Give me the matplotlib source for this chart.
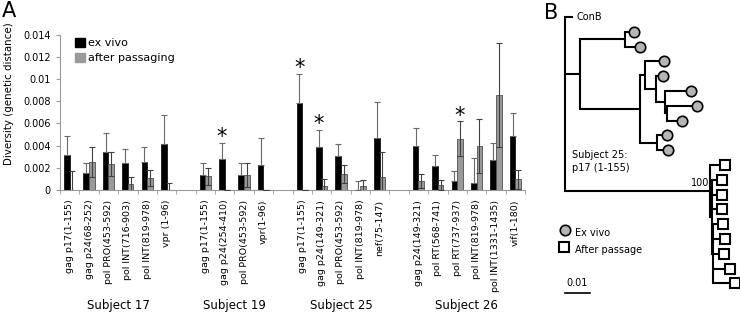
import numpy as np
import matplotlib
matplotlib.use("Agg")
from matplotlib import pyplot as plt
from matplotlib.ticker import FormatStrFormatter

# ---------------- panel A data ----------------
subjects = ["Subject 17", "Subject 19", "Subject 25", "Subject 26"]

genes17 = ["gag p17(1-155)", "gag p24(68-252)", "pol PRO(453-592)", "pol INT(716-903)",
           "pol INT(819-978)", "vpr (1-96)"]
exvivo17 = [0.00315, 0.00156, 0.0034, 0.0024, 0.0025, 0.0041]
exvivo17_err = [0.0017, 0.00084, 0.00176, 0.00132, 0.0014, 0.0027]
passage17 = [0.0, 0.00255, 0.00231, 0.00054, 0.00108, 0.0]
passage17_err = [0.00174, 0.00135, 0.00109, 0.0006, 0.00075, 0.0006]

genes19 = ["gag p17(1-155)", "gag p24(254-410)", "pol PRO(453-592)", "vpr(1-96)"]
exvivo19 = [0.00135, 0.00276, 0.00132, 0.00225]
exvivo19_err = [0.0011, 0.0015, 0.00108, 0.0024]
passage19 = [0.00123, 0.00003, 0.00132, 0.00002]
passage19_err = [0.00077, 0.0, 0.00108, 0.0]

genes25 = ["gag p17(1-155)", "gag p24(149-321)", "pol PRO(453-592)", "pol INT(819-978)",
           "nef(75-147)"]
exvivo25 = [0.0078, 0.00387, 0.00303, 0.0, 0.00471]
exvivo25_err = [0.00265, 0.00153, 0.00107, 0.00081, 0.00322]
passage25 = [0.00003, 0.00036, 0.00144, 0.00036, 0.0012]
passage25_err = [0.0, 0.0006, 0.00084, 0.00051, 0.00225]

genes26 = ["gag p24(149-321)", "pol RT(568-741)", "pol RT(737-937)", "pol INT(819-978)",
           "pol INT(1331-1435)", "vif(1-180)"]
exvivo26 = [0.00396, 0.00216, 0.00084, 0.0006, 0.0027, 0.00486]
exvivo26_err = [0.00165, 0.00096, 0.00087, 0.00225, 0.0015, 0.00204]
passage26 = [0.00081, 0.00045, 0.00462, 0.00393, 0.00853, 0.00096]
passage26_err = [0.00063, 0.00045, 0.00156, 0.00243, 0.00467, 0.00084]

# significant differences: (subject index, gene index, 0=ex vivo / 1=after passaging)
stars = [(1, 1, 0), (2, 0, 0), (2, 1, 0), (3, 2, 1)]

# ---------------- panel B data (tree) ----------------
# nested (name, branch length, children); leaves have a marker type
tree = ("root", 0.0, [
    ("ConB", 0.003, None),
    ("exvivo", 0.006, [
        ("n1", 0.018, [("L1", 0.0036, "o"), ("L2", 0.006, "o")]),
        ("n2", 0.024, [
            ("n3", 0.002, [
                ("L3", 0.0076, "o"),
                ("n4", 0.0044, [
                    ("L4", 0.0028, "o"),
                    ("n5", 0.0036, [
                        ("L5", 0.0104, "o"),
                        ("n6", 0.0008, [("L6", 0.012, "o"), ("L7", 0.006, "o")]),
                    ]),
                ]),
            ]),
            ("n7", 0.0068, [("L8", 0.004, "o"), ("L9", 0.0044, "o")]),
        ]),
    ]),
    ("passage", 0.058, [
        ("Q1", 0.006, "s"),
        ("p1", 0.0006, [
            ("Q2", 0.004, "s"), ("Q3", 0.004, "s"), ("Q4", 0.004, "s"),
            ("p2", 0.0006, [("Q5", 0.004, "s"), ("Q6", 0.0046, "s"), ("Q7", 0.0042, "s"),
                            ("Q8", 0.0066, "s"), ("Q9", 0.0088, "s")]),
        ]),
    ]),
])

fig = plt.figure(figsize=(7.4, 3.18), dpi=100)

# ---------------- panel A ----------------
ax = fig.add_axes([60 / 740, (318 - 190) / 318, 465 / 740, 155.4 / 318])

groups = [(genes17, exvivo17, exvivo17_err, passage17, passage17_err),
          (genes19, exvivo19, exvivo19_err, passage19, passage19_err),
          (genes25, exvivo25, exvivo25_err, passage25, passage25_err),
          (genes26, exvivo26, exvivo26_err, passage26, passage26_err)]

w = 0.29
pos = 0
xt, xl, centers, gpos = [], [], [], []
for gi, (genes, ev, eve, ps, pse) in enumerate(groups):
    x = pos + np.arange(len(genes))
    gpos.append(x)
    ax.bar(x - w / 2, ev, w, color="black", edgecolor="black", linewidth=0.5, zorder=2)
    ax.bar(x + w / 2, ps, w, color="#9a9a9a", edgecolor="#505050", linewidth=0.6, zorder=2)
    # black bars: only the upper whisker shows
    ax.errorbar(x - w / 2, ev, yerr=[np.zeros(len(ev)), eve], fmt="none", ecolor="#6a6a6a",
                elinewidth=0.8, capsize=2, capthick=0.8, zorder=3)
    ax.errorbar(x + w / 2, ps, yerr=pse, fmt="none", ecolor="#404040", elinewidth=0.8,
                capsize=2, capthick=0.8, zorder=3)
    xt += list(x)
    xl += genes
    centers.append(x.mean())
    pos += len(genes) + 1

for si, gi, ser in stars:
    genes, ev, eve, ps, pse = groups[si]
    vals, errs = (ev, eve) if ser == 0 else (ps, pse)
    xs = gpos[si][gi] + (-w / 2 if ser == 0 else w / 2)
    ax.annotate("*", (xs, vals[gi] + errs[gi]), xytext=(0, -3), textcoords="offset points",
                ha="center", va="bottom", fontsize=15)

ax.set_xlim(-0.5, pos - 1.5)
ax.set_ylim(0, 0.014)
ax.set_yticks(np.arange(0, 0.0141, 0.002))
ax.yaxis.set_major_formatter(FormatStrFormatter("%g"))
ax.set_xticks(xt)
ax.set_xticklabels(xl, rotation=90, fontsize=6.8)
ax.set_xticks(np.arange(-0.5, pos - 1, 1), minor=True)
ax.tick_params(axis="x", which="major", length=0, pad=7)
ax.tick_params(axis="x", which="minor", length=3, color="#999999")
ax.tick_params(axis="y", labelsize=7, length=3, color="#999999")
for s in ["top", "right"]:
    ax.spines[s].set_visible(False)
for s in ["left", "bottom"]:
    ax.spines[s].set_color("#999999")
    ax.spines[s].set_linewidth(0.8)
ax.set_ylabel("Diversity (genetic distance)", fontsize=7.4)
ax.yaxis.set_label_coords(-0.099, 0.62)

for c, name in zip(centers, subjects):
    ax.text(c, -0.745, name, transform=ax.get_xaxis_transform(), ha="center", va="center",
            fontsize=8.5)

h1 = plt.Rectangle((0, 0), 1, 1, color="black")
h2 = plt.Rectangle((0, 0), 1, 1, color="#9a9a9a")
ax.legend([h1, h2], ["ex vivo", "after passaging"], loc="upper left",
          bbox_to_anchor=(0.01, 1.045), frameon=False, fontsize=8,
          handlelength=0.9, handleheight=0.9, handletextpad=0.3, labelspacing=0.45)

fig.text(0.002, 0.965, "A", fontsize=15, va="center")

# ---------------- panel B ----------------
bx = fig.add_axes([530 / 740, 0, 210 / 740, 1])
bx.set_xlim(-0.014, 0.07)
bx.set_ylim(20.34, -1.149)
bx.axis("off")

leaf_count = [0]


def layout(node, x0):
    name, bl, kids = node
    x1 = x0 + bl
    if not isinstance(kids, list):
        y = leaf_count[0]
        leaf_count[0] += 1
        bx.plot([x0, x1], [y, y], color="black", lw=1.5, solid_capstyle="butt")
        if kids == "o":
            bx.plot(x1, y, "o", ms=7.5, mfc="#b5b5b5", mec="black", mew=1.2)
        elif kids == "s":
            bx.plot(x1, y, "s", ms=7, mfc="white", mec="black", mew=1.5)
        else:
            bx.text(x1 + 0.0015, y, name, fontsize=7, va="center")
        return y
    ys = [layout(k, x1) for k in kids]
    y = (min(ys) + max(ys)) / 2
    bx.plot([x1, x1], [min(ys), max(ys)], color="black", lw=1.5, solid_capstyle="projecting")
    bx.plot([x0, x1], [y, y], color="black", lw=1.5, solid_capstyle="butt")
    if name == "passage":
        bx.text(x1 - 0.0004, y - 0.55, "100", fontsize=7, ha="right", va="center")
    return y


layout(tree, 0.0)

bx.text(0.003, 9.75, "Subject 25:\np17 (1-155)", fontsize=7, va="center", linespacing=1.4)
bx.plot(0.0, 14.4, "o", ms=7.5, mfc="#b5b5b5", mec="black", mew=1.2)
bx.text(0.004, 14.6, "Ex vivo", fontsize=7, va="center")
bx.plot(-0.0004, 15.55, "s", ms=6.5, mfc="white", mec="black", mew=1.5)
bx.text(0.004, 15.75, "After passage", fontsize=7, va="center")
bx.plot([0.0, 0.01], [18.65, 18.65], color="black", lw=1.2)
bx.text(0.005, 18.3, "0.01", fontsize=7, ha="center", va="bottom")
bx.text(-0.0083, -0.3, "B", fontsize=15, va="center")

fig.savefig("out.png", dpi=100)
